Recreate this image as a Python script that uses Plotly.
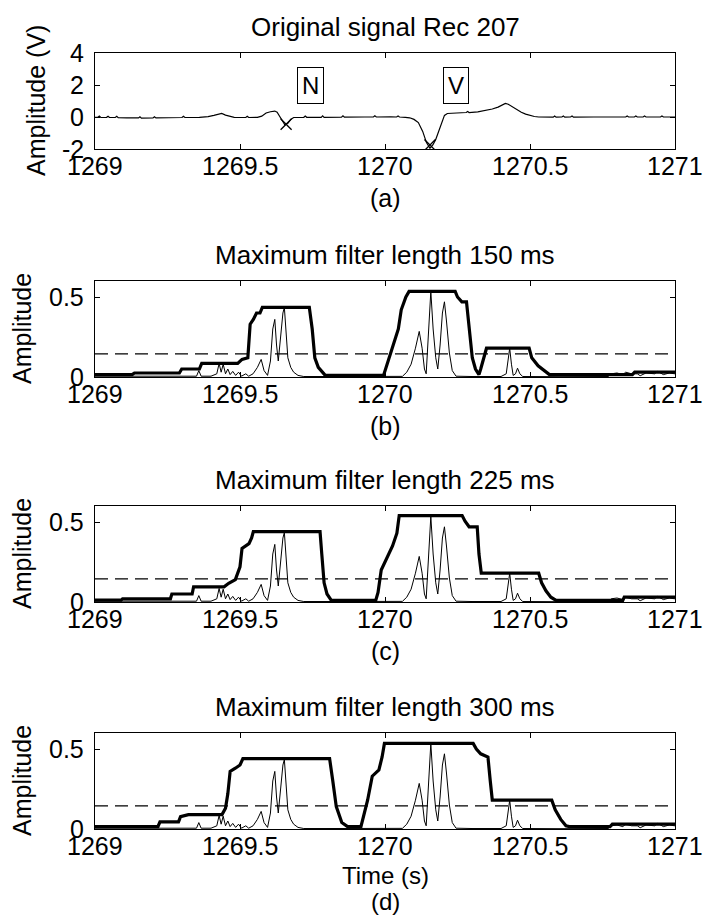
import plotly.graph_objects as go

# ---------------- DATA ----------------
x_ticks = [1269, 1269.5, 1270, 1270.5, 1271]
x_ticktext = ["1269", "1269.5", "1270", "1270.5", "1271"]
ya_ticks = [-2, 0, 2, 4]
ya_ticktext = ["-2", "0", "2", "4"]
yb_ticks = [0, 0.5]
yb_ticktext = ["0", "0.5"]

# (a) original ECG signal
ecg_t = [1269.000, 1269.010, 1269.015, 1269.020, 1269.040, 1269.045, 1269.050, 1269.070, 1269.075, 1269.080,
         1269.110, 1269.130, 1269.150, 1269.155, 1269.160, 1269.200, 1269.205, 1269.210, 1269.250, 1269.300,
         1269.305, 1269.310, 1269.360, 1269.390, 1269.410, 1269.425, 1269.437, 1269.450, 1269.465, 1269.480,
         1269.520, 1269.525, 1269.530, 1269.560, 1269.575, 1269.590, 1269.605, 1269.620, 1269.628, 1269.636,
         1269.645, 1269.655, 1269.665, 1269.675, 1269.685, 1269.700, 1269.720, 1269.725, 1269.730, 1269.780,
         1269.785, 1269.790, 1269.850, 1269.855, 1269.860, 1269.930, 1269.960, 1269.965, 1269.970, 1270.020,
         1270.040, 1270.045, 1270.050, 1270.070, 1270.085, 1270.100, 1270.115, 1270.130, 1270.143, 1270.155,
         1270.165, 1270.175, 1270.185, 1270.195, 1270.205, 1270.215, 1270.250, 1270.280, 1270.285, 1270.290,
         1270.320, 1270.350, 1270.370, 1270.390, 1270.405, 1270.415, 1270.425, 1270.440, 1270.455, 1270.470,
         1270.485, 1270.500, 1270.515, 1270.530, 1270.560, 1270.580, 1270.585, 1270.590, 1270.610, 1270.615,
         1270.620, 1270.640, 1270.645, 1270.650, 1270.720, 1270.800, 1270.830, 1270.835, 1270.840, 1270.860,
         1270.865, 1270.870, 1270.890, 1270.895, 1270.900, 1270.950, 1270.955, 1270.960, 1271.000]
ecg_v = [-0.02, -0.02, 0.06, -0.03, -0.02, 0.05, -0.03, -0.03, 0.04, -0.04,
         -0.05, -0.07, -0.06, 0.01, -0.07, -0.06, 0.01, -0.06, -0.05, -0.03,
         0.05, -0.03, -0.02, 0.02, 0.10, 0.15, 0.22, 0.12, 0.03, -0.02,
         -0.03, 0.05, -0.03, -0.02, 0.05, 0.25, 0.33, 0.37, 0.30, 0.05,
         -0.25, -0.50, -0.40, -0.15, -0.03, -0.02, -0.02, 0.06, -0.02, -0.02,
         0.07, -0.02, -0.01, 0.07, -0.01, 0.00, 0.00, 0.07, 0.00, 0.01,
         0.00, 0.06, 0.00, -0.02, -0.05, -0.15, -0.35, -0.90, -1.60, -1.95,
         -1.75, -1.40, -0.90, -0.30, 0.10, 0.22, 0.25, 0.28, 0.34, 0.28,
         0.32, 0.40, 0.50, 0.62, 0.78, 0.85, 0.80, 0.62, 0.45, 0.30,
         0.18, 0.10, 0.03, 0.00, 0.00, -0.01, 0.06, -0.01, 0.00, 0.06,
         -0.01, 0.00, 0.06, -0.01, 0.00, 0.00, 0.00, 0.06, 0.00, 0.00,
         0.06, 0.00, 0.00, 0.06, 0.00, 0.00, 0.06, 0.00, 0.00]
beat_t = [1269.659, 1270.155]
beat_v = [-0.45, -1.75]
beat_labels = ["N", "V"]
label_t = [1269.743, 1270.245]
label_v = [2.0, 2.0]

# feature signal (thin line, same in panels b-d)
det_t = [1269.000, 1269.100, 1269.200, 1269.300, 1269.350, 1269.358, 1269.366, 1269.400, 1269.420, 1269.428,
         1269.435, 1269.442, 1269.450, 1269.458, 1269.466, 1269.475, 1269.485, 1269.495, 1269.505, 1269.520,
         1269.530, 1269.545, 1269.560, 1269.573, 1269.583, 1269.595, 1269.605, 1269.613, 1269.620, 1269.626,
         1269.632, 1269.640, 1269.648, 1269.653, 1269.658, 1269.665, 1269.675, 1269.685, 1269.700, 1269.720,
         1269.800, 1269.900, 1270.000, 1270.060, 1270.075, 1270.090, 1270.105, 1270.118, 1270.128, 1270.136,
         1270.142, 1270.150, 1270.158, 1270.166, 1270.175, 1270.182, 1270.190, 1270.198, 1270.205, 1270.212,
         1270.222, 1270.232, 1270.245, 1270.300, 1270.400, 1270.418, 1270.425, 1270.430, 1270.436, 1270.442,
         1270.450, 1270.457, 1270.465, 1270.475, 1270.600, 1270.700, 1270.770, 1270.780, 1270.800, 1270.820,
         1270.830, 1270.850, 1270.870, 1270.880, 1270.900, 1270.930, 1270.940, 1270.960, 1270.980, 1271.000]
det_v = [0.005, 0.005, 0.003, 0.004, 0.005, 0.040, 0.005, 0.005, 0.020, 0.085,
         0.030, 0.080, 0.020, 0.050, 0.015, 0.035, 0.010, 0.030, 0.005, 0.020,
         0.005, 0.020, 0.060, 0.110, 0.040, 0.010, 0.100, 0.300, 0.360, 0.200,
         0.100, 0.250, 0.400, 0.435, 0.300, 0.120, 0.060, 0.030, 0.010, 0.003,
         0.003, 0.003, 0.003, 0.004, 0.030, 0.080, 0.180, 0.285, 0.180, 0.050,
         0.020, 0.300, 0.535, 0.300, 0.120, 0.050, 0.200, 0.400, 0.470, 0.350,
         0.150, 0.040, 0.005, 0.003, 0.003, 0.020, 0.120, 0.180, 0.080, 0.010,
         0.020, 0.055, 0.020, 0.003, 0.002, 0.002, 0.003, 0.020, 0.025, 0.015,
         0.030, 0.020, 0.020, 0.008, 0.025, 0.020, 0.035, 0.015, 0.025, 0.020]

# (b) maximum filter 150 ms (thick line)
max150_t = [1269.000, 1269.128, 1269.136, 1269.291, 1269.299, 1269.360, 1269.368, 1269.492, 1269.507, 1269.527,
            1269.535, 1269.546, 1269.557, 1269.569, 1269.577, 1269.739, 1269.749, 1269.758, 1269.770, 1269.783,
            1269.794, 1269.995, 1270.002, 1270.015, 1270.030, 1270.046, 1270.056, 1270.072, 1270.083, 1270.242,
            1270.250, 1270.265, 1270.281, 1270.290, 1270.301, 1270.312, 1270.324, 1270.330, 1270.340, 1270.350,
            1270.497, 1270.506, 1270.528, 1270.547, 1270.567, 1270.853, 1270.861, 1271.000]
max150_v = [0.015, 0.015, 0.025, 0.025, 0.050, 0.050, 0.085, 0.085, 0.110, 0.120,
            0.330, 0.360, 0.400, 0.400, 0.435, 0.435, 0.300, 0.120, 0.060, 0.030,
            0.010, 0.010, 0.050, 0.120, 0.220, 0.300, 0.420, 0.500, 0.535, 0.535,
            0.500, 0.470, 0.470, 0.300, 0.120, 0.050, 0.015, 0.050, 0.120, 0.180,
            0.180, 0.120, 0.070, 0.040, 0.015, 0.015, 0.030, 0.030]

# (c) maximum filter 225 ms
max225_t = [1269.000, 1269.090, 1269.095, 1269.260, 1269.265, 1269.335, 1269.340, 1269.445, 1269.461, 1269.484,
            1269.500, 1269.507, 1269.531, 1269.540, 1269.546, 1269.776, 1269.782, 1269.790, 1269.800, 1269.815,
            1269.968, 1269.976, 1269.987, 1270.002, 1270.026, 1270.041, 1270.049, 1270.266, 1270.276, 1270.290,
            1270.318, 1270.324, 1270.332, 1270.530, 1270.540, 1270.555, 1270.572, 1270.590, 1270.820, 1270.825,
            1271.000]
max225_v = [0.012, 0.012, 0.020, 0.020, 0.050, 0.050, 0.095, 0.095, 0.117, 0.140,
            0.220, 0.335, 0.365, 0.400, 0.440, 0.440, 0.300, 0.120, 0.050, 0.010,
            0.010, 0.060, 0.200, 0.260, 0.350, 0.430, 0.540, 0.540, 0.505, 0.470,
            0.470, 0.300, 0.180, 0.180, 0.120, 0.070, 0.030, 0.010, 0.010, 0.030,
            0.030]

# (d) maximum filter 300 ms
max300_t = [1269.000, 1269.217, 1269.224, 1269.288, 1269.295, 1269.322, 1269.438, 1269.450, 1269.458, 1269.466,
            1269.484, 1269.500, 1269.510, 1269.809, 1269.820, 1269.832, 1269.851, 1269.871, 1269.917, 1269.928,
            1269.940, 1269.956, 1269.979, 1269.990, 1269.998, 1270.304, 1270.315, 1270.330, 1270.355, 1270.363,
            1270.370, 1270.575, 1270.587, 1270.606, 1270.624, 1270.636, 1270.776, 1270.784, 1271.000]
max300_v = [0.015, 0.015, 0.045, 0.045, 0.077, 0.090, 0.090, 0.130, 0.220, 0.360,
            0.380, 0.400, 0.440, 0.440, 0.300, 0.140, 0.040, 0.015, 0.015, 0.100,
            0.180, 0.330, 0.370, 0.450, 0.535, 0.535, 0.500, 0.470, 0.450, 0.300,
            0.180, 0.180, 0.120, 0.060, 0.020, 0.015, 0.015, 0.030, 0.030]

threshold = 0.145
x_span = [1269, 1271]

titles = ["Original signal Rec 207", "Maximum filter length 150 ms",
          "Maximum filter length 225 ms", "Maximum filter length 300 ms"]
sub_labels = ["(a)", "(b)", "(c)", "(d)"]

# ---------------- LAYOUT (pixels) ----------------
W, H = 703, 916
FONT = "Liberation Sans, Arial, sans-serif"
FS = 25
FS_TITLE = 26
box_left, box_right = 95, 675
box_tops = [53, 281, 506, 733]
box_h = 96


def px(x):
    return x / W


def py(y):
    return 1 - y / H


fig = go.Figure()

# panel (a)
fig.add_trace(go.Scatter(x=ecg_t, y=ecg_v, mode="lines", line=dict(color="black", width=1.2),
                         xaxis="x", yaxis="y", hoverinfo="skip"))
fig.add_trace(go.Scatter(x=beat_t, y=beat_v, mode="markers",
                         marker=dict(symbol="x-thin", size=11, line=dict(color="black", width=1.3)),
                         xaxis="x", yaxis="y", hoverinfo="skip"))

max_sets = [(max150_t, max150_v), (max225_t, max225_v), (max300_t, max300_v)]
for i, (mt, mv) in enumerate(max_sets, start=2):
    xa, ya = f"x{i}", f"y{i}"
    fig.add_trace(go.Scatter(x=det_t, y=det_v, mode="lines", line=dict(color="black", width=1),
                             xaxis=xa, yaxis=ya, hoverinfo="skip"))
    fig.add_trace(go.Scatter(x=mt, y=mv, mode="lines", line=dict(color="black", width=3.2),
                             xaxis=xa, yaxis=ya, hoverinfo="skip"))
    fig.add_trace(go.Scatter(x=x_span, y=[threshold, threshold], mode="lines",
                             line=dict(color="black", width=1.2, dash="13px,7px"),
                             xaxis=xa, yaxis=ya, hoverinfo="skip"))

axis_common = dict(showline=True, linecolor="black", linewidth=1, mirror="ticks",
                   ticks="inside", ticklen=5, tickcolor="black", tickwidth=1,
                   showgrid=False, zeroline=False, showticklabels=False)

layout = dict(width=W, height=H, margin=dict(l=0, r=0, t=0, b=0),
              paper_bgcolor="white", plot_bgcolor="white", showlegend=False,
              font=dict(family=FONT, size=FS, color="black"))

for i in range(4):
    sfx = "" if i == 0 else str(i + 1)
    top = box_tops[i]
    bot = top + box_h
    layout["xaxis" + sfx] = dict(axis_common, domain=[px(box_left), px(box_right)],
                                 range=[1269, 1271], tickvals=x_ticks, anchor="y" + sfx)
    if i == 0:
        yt, yr = ya_ticks, [-2, 4]
    else:
        yt, yr = yb_ticks, [0, 0.6]
    layout["yaxis" + sfx] = dict(axis_common, domain=[py(bot), py(top)], range=yr,
                                 tickvals=yt, anchor="x" + sfx)

fig.update_layout(**layout)

ann = []
tick_font = dict(family=FONT, size=FS, color="black")
small_font = dict(family=FONT, size=24, color="black")
cx = (box_left + box_right) / 2
for i in range(4):
    sfx = "" if i == 0 else str(i + 1)
    top = box_tops[i]
    bot = top + box_h
    # x tick labels
    for tv, tt in zip(x_ticks, x_ticktext):
        ann.append(dict(text=tt, x=tv, y=py(bot + 17), xref="x" + sfx, yref="paper",
                        showarrow=False, xanchor="center", yanchor="middle", font=tick_font,
                        borderpad=0))
    # y tick labels
    yt, ytt = (ya_ticks, ya_ticktext) if i == 0 else (yb_ticks, yb_ticktext)
    for tv, tt in zip(yt, ytt):
        ann.append(dict(text=tt, x=px(box_left - 10), y=tv, xref="paper", yref="y" + sfx,
                        showarrow=False, xanchor="right", yanchor="middle", font=tick_font,
                        borderpad=0))
    ann.append(dict(text=titles[i], x=px(cx), y=py(top - 26), xref="paper", yref="paper",
                    showarrow=False, xanchor="center", yanchor="middle", borderpad=0,
                    font=dict(family=FONT, size=FS_TITLE, color="black")))
    if i < 3:
        ann.append(dict(text=sub_labels[i], x=px(cx), y=py(bot + 49), xref="paper", yref="paper",
                        showarrow=False, xanchor="center", yanchor="middle", font=tick_font,
                        borderpad=0))
    else:
        ann.append(dict(text="Time (s)", x=px(cx), y=py(bot + 46), xref="paper", yref="paper",
                        showarrow=False, xanchor="center", yanchor="middle", font=small_font,
                        borderpad=0))
        ann.append(dict(text=sub_labels[i], x=px(cx), y=0, xref="paper", yref="paper",
                        showarrow=False, xanchor="center", yanchor="bottom", font=small_font,
                        borderpad=0))
    ylab = "Amplitude (V)" if i == 0 else "Amplitude"
    ylx = 36 if i == 0 else 22
    ann.append(dict(text=ylab, x=px(ylx), y=py(top + box_h / 2), xref="paper", yref="paper",
                    showarrow=False, xanchor="center", yanchor="middle", textangle=-90,
                    font=tick_font, borderpad=0))

for t, v, s in zip(label_t, label_v, beat_labels):
    ann.append(dict(text=s, x=t, y=v, xref="x", yref="y", showarrow=False,
                    xanchor="center", yanchor="middle",
                    bordercolor="black", borderwidth=1, borderpad=4, bgcolor="white",
                    font=dict(family=FONT, size=24, color="black")))

fig.update_layout(annotations=ann)
fig.write_html("out.html")
